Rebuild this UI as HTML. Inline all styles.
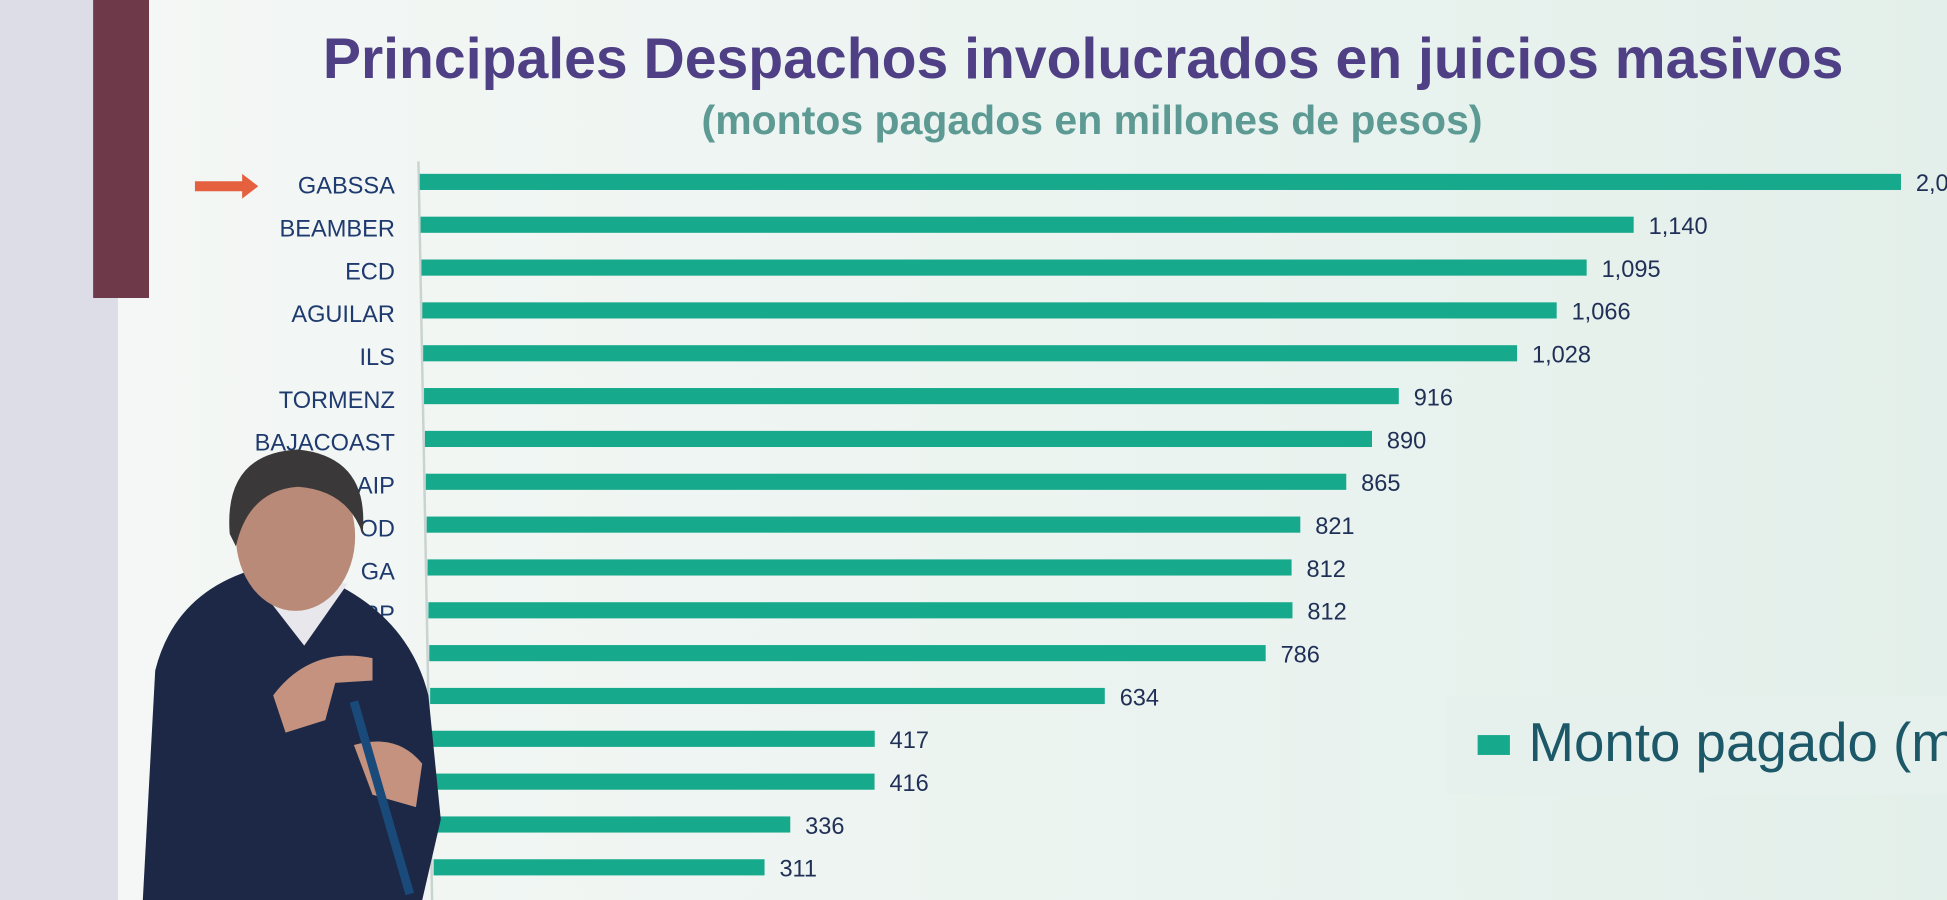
<!DOCTYPE html>
<html><head><meta charset="utf-8">
<style>
html,body{margin:0;padding:0;}
body{width:1947px;height:900px;overflow:hidden;background:#eef4f1;font-family:"Liberation Sans",sans-serif;}
#wrap{position:absolute;left:0;top:0;width:1568px;height:725px;transform:scale(1.2417);transform-origin:0 0;}
</style></head>
<body>
<div id="wrap">
<div style="position:absolute;left:0;top:0;width:95px;height:725px;background:#dcdde6;"></div>
<div style="position:absolute;left:95px;top:0;width:1473px;height:725px;background:linear-gradient(90deg,#f4f7f5,#eaf3ef 60%,#e3efea);"></div>
<div style="position:absolute;left:75px;top:0;width:45px;height:240px;background:#6e3a4a;"></div>
<div style="position:absolute;left:260px;top:20px;font-size:46px;font-weight:bold;color:#4f3f84;white-space:nowrap;">Principales Despachos involucrados en juicios masivos</div>
<div style="position:absolute;left:565px;top:78px;font-size:33px;font-weight:bold;color:#5d9a93;white-space:nowrap;">(montos pagados en millones de pesos)</div>
<svg id="chart" width="1568" height="725" style="position:absolute;left:0;top:0;">
<line x1="337" y1="130" x2="348" y2="725" stroke="#c9d3d0" stroke-width="2"/>
<polygon points="157,146 195,146 195,140 208,150 195,160 195,154 157,154" fill="#e5603e"/>
</svg>
<div style="position:absolute;left:1165px;top:560px;width:420px;height:80px;background:#e6f1ee;">
<div style="position:absolute;left:25px;top:32px;width:26px;height:16px;background:#17a98b;"></div>
<div style="position:absolute;left:66px;top:14px;font-size:44px;color:#1d5868;white-space:nowrap;">Monto pagado (m</div>
</div>
<svg width="1568" height="725" style="position:absolute;left:0;top:0;">
<path d="M115,725 L125,540 Q140,480 200,460 L270,470 Q330,500 345,560 L355,660 L340,725 Z" fill="#1c2846"/>
<path d="M200,462 L245,520 L280,470 Z" fill="#e8e8ec"/>
<ellipse cx="238" cy="432" rx="48" ry="60" fill="#b98a78"/>
<path d="M185,430 Q180,365 240,362 Q298,368 292,430 Q280,395 240,392 Q200,395 190,440 Z" fill="#3a3838"/>
<path d="M220,560 Q250,520 300,530 L300,548 L270,550 L262,580 L230,590 Z" fill="#c4927f"/>
<path d="M285,600 Q320,590 340,615 L335,650 L300,640 Z" fill="#c4927f"/>
<path d="M285,565 L330,720" stroke="#1a4a7a" stroke-width="7"/>
</svg>
</div>
<script>
const categories=["GABSSA","BEAMBER","ECD","AGUILAR","ILS","TORMENZ","BAJACOAST","AIP","OD","GA","ORP","G","S","","","","",""];
const values=[1392,1140,1095,1066,1028,916,890,865,821,812,812,786,634,417,416,336,311,200];
const printed=["2,0","1,140","1,095","1,066","1,028","916","890","865","821","812","812","786","634","417","416","336","311","2"];
const svg=document.getElementById('chart');
const NS='http://www.w3.org/2000/svg';
const k=0.857;
function yPos(i){return 147+i*34.5;}
function x0(i){return 338+i*0.7;}
function xw(v){return v*k;}
categories.forEach((c,i)=>{
  const y=yPos(i);
  const r=document.createElementNS(NS,'rect');
  r.setAttribute('x',x0(i));r.setAttribute('y',y-7);
  r.setAttribute('width',xw(values[i]));r.setAttribute('height',13);
  r.setAttribute('fill','#17a98b');
  
  
  svg.appendChild(r);
  const t=document.createElementNS(NS,'text');
  t.setAttribute('x',x0(i)+xw(values[i])+12);t.setAttribute('y',y+7);
  t.setAttribute('font-size','19');t.setAttribute('fill','#1f2f55');
  t.setAttribute('font-family','Liberation Sans, sans-serif');
  t.textContent=printed[i];
  
  
  svg.appendChild(t);
  if(c){
    const l=document.createElementNS(NS,'text');
    l.setAttribute('x',318);l.setAttribute('y',y+9);
    l.setAttribute('text-anchor','end');
    l.setAttribute('font-size','19');l.setAttribute('fill','#1f3a6e');
    l.setAttribute('font-family','Liberation Sans, sans-serif');
    l.textContent=c;
    
    
    svg.appendChild(l);
  }
});
</script>
</body></html>
